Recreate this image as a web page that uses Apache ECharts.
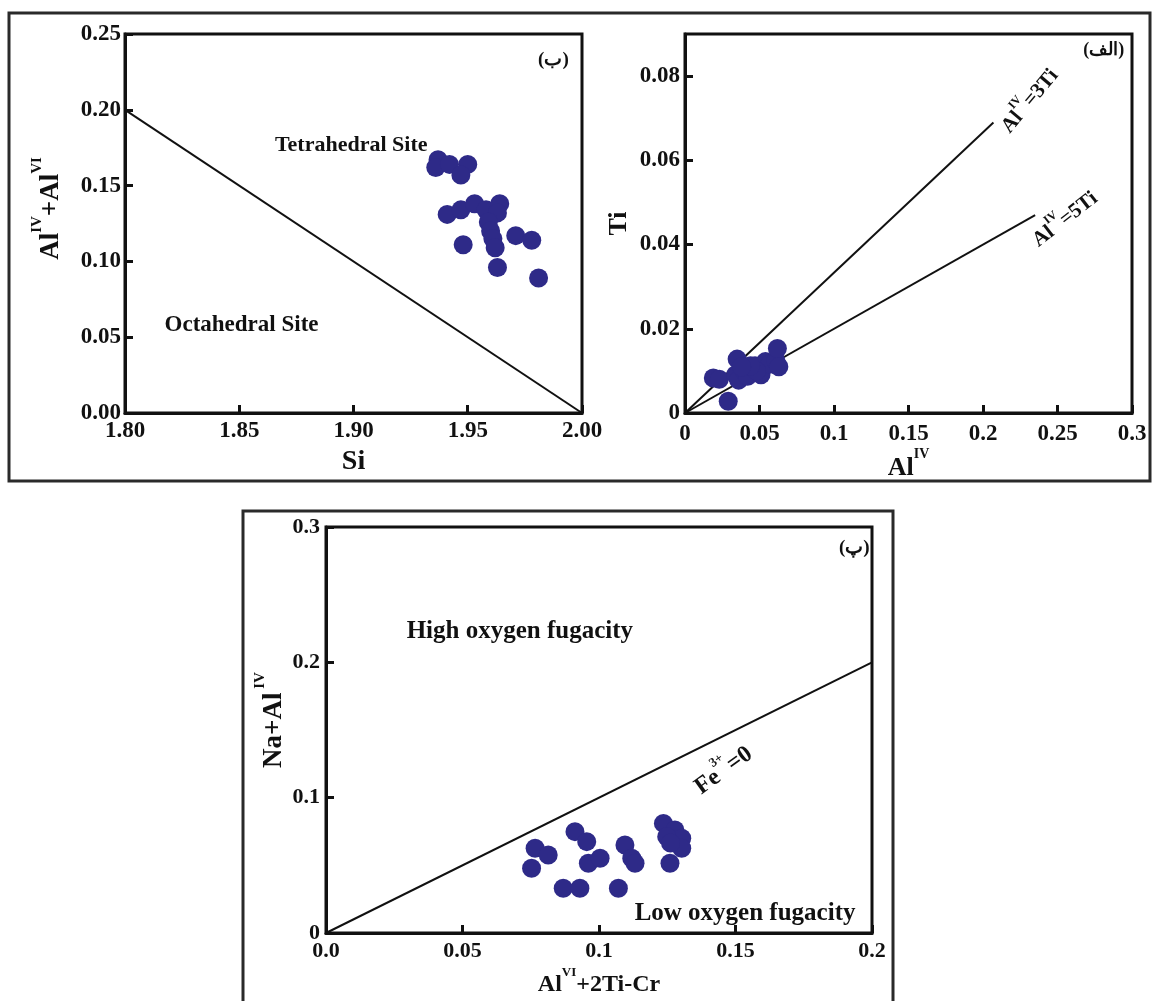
<!DOCTYPE html>
<html>
<head>
<meta charset="utf-8">
<script src="https://cdn.jsdelivr.net/npm/echarts@6/dist/echarts.min.js"></script>
<style>
  html, body { margin: 0; padding: 0; background: #ffffff; }
  #chart { width: 1155px; height: 1001px; }
</style>
</head>
<body>
<div id="chart"></div>
<script>
// Panel (ب): Si vs Al(IV)+Al(VI) in clinopyroxene
const siteSi = [1.937, 1.936, 1.942, 1.950, 1.947, 1.941, 1.947, 1.953, 1.958, 1.964, 1.963,
                1.959, 1.960, 1.961, 1.948, 1.962, 1.971, 1.978, 1.963, 1.981];
const siteAlTotal = [0.167, 0.162, 0.164, 0.164, 0.157, 0.131, 0.134, 0.138, 0.134, 0.138, 0.132,
                     0.126, 0.120, 0.115, 0.111, 0.109, 0.117, 0.114, 0.096, 0.089];
const siteBoundarySi = [1.80, 2.00];
const siteBoundaryAl = [0.20, 0.00];

// Panel (الف): Al(IV) vs Ti
const tiAlIV = [0.019, 0.023, 0.029, 0.035, 0.034, 0.036, 0.040, 0.042, 0.047, 0.051, 0.054,
                0.057, 0.061, 0.062, 0.063, 0.048, 0.044, 0.038];
const tiTi = [0.0083, 0.0080, 0.0028, 0.0128, 0.0091, 0.0078, 0.0099, 0.0087, 0.0112, 0.0091, 0.0122,
              0.0116, 0.0124, 0.0153, 0.0110, 0.0100, 0.0112, 0.0110];
const ratio3AlIV = [0, 0.207];
const ratio3Ti = [0, 0.069];
const ratio5AlIV = [0, 0.235];
const ratio5Ti = [0, 0.047];

// Panel (پ): Al(VI)+2Ti-Cr vs Na+Al(IV)
const fugX = [0.0766, 0.0814, 0.0753, 0.0912, 0.0955, 0.0961, 0.1004, 0.0869, 0.0930, 0.1095,
              0.1120, 0.1132, 0.1071, 0.1236, 0.1278, 0.1303, 0.1248, 0.1303, 0.1260, 0.1262];
const fugY = [0.0626, 0.0576, 0.0478, 0.0749, 0.0675, 0.0515, 0.0552, 0.0330, 0.0330, 0.0650,
              0.0552, 0.0515, 0.0330, 0.0810, 0.0761, 0.0700, 0.0712, 0.0626, 0.0515, 0.0665];
const fe3X = [0, 0.2];
const fe3Y = [0, 0.2];

const SERIF = "'Liberation Serif', 'Times New Roman', 'DejaVu Serif', serif";
const INK = '#111111';
const DOT = '#2e2a88';

const zip = (a, b) => a.map((v, i) => [v, b[i]]);

function rich(size) {
  return {
    b: { fontSize: size, fontWeight: 'bold', fontFamily: SERIF, color: INK, opacity: 1, lineHeight: Math.round(size * 1.3), verticalAlign: 'bottom' },
    s: { fontSize: Math.round(size * 0.55), fontWeight: 'bold', fontFamily: SERIF, color: INK, opacity: 1, lineHeight: Math.round(size * 0.55), verticalAlign: 'top' }
  };
}

function tickLabels(size, margin, extra) {
  return Object.assign({ color: INK, fontFamily: SERIF, fontWeight: 'bold', fontSize: size, margin,
                         showMinLabel: true, showMaxLabel: true }, extra);
}

function valueAxis(gridIndex, min, max, interval, extra) {
  return Object.assign({
    type: 'value', gridIndex, min, max, interval,
    axisLine: { show: true, lineStyle: { color: INK, width: 3 } },
    axisTick: { show: true, inside: true, length: 8, lineStyle: { color: INK, width: 3 } },
    splitLine: { show: false },
    nameLocation: 'middle'
  }, extra);
}

function note(x, y, text, size, rotate) {
  return {
    value: [x, y],
    label: { show: true, position: 'inside', formatter: text, rotate: rotate || 0, rich: rich(size),
             fontFamily: SERIF, fontWeight: 'bold', fontSize: size, color: INK, opacity: 1 }
  };
}

function notes(xi, yi, items) {
  return { type: 'scatter', xAxisIndex: xi, yAxisIndex: yi, symbolSize: 0, silent: true, z: 5,
           itemStyle: { opacity: 1, color: INK }, data: items };
}

function dots(xi, yi, data) {
  return { type: 'scatter', xAxisIndex: xi, yAxisIndex: yi, symbol: 'circle', symbolSize: 19, z: 4,
           itemStyle: { color: DOT, opacity: 1 }, data };
}

function refLine(xi, yi, data) {
  return { type: 'line', xAxisIndex: xi, yAxisIndex: yi, symbol: 'none', silent: true, z: 3,
           lineStyle: { color: INK, width: 2 }, data };
}

const gridBox = { show: true, borderColor: INK, borderWidth: 3, backgroundColor: 'rgba(0,0,0,0)' };

const option = {
  backgroundColor: '#ffffff',
  animation: false,
  graphic: [
    { type: 'rect', shape: { x: 9, y: 13, width: 1141, height: 468 }, style: { fill: 'none', stroke: '#2a2a2a', lineWidth: 3 }, silent: true },
    { type: 'rect', shape: { x: 243, y: 511, width: 650, height: 510 }, style: { fill: 'none', stroke: '#2a2a2a', lineWidth: 3 }, silent: true }
  ],
  grid: [
    Object.assign({ left: 125, top: 34, width: 457, height: 379 }, gridBox),
    Object.assign({ left: 685, top: 34, width: 447, height: 379 }, gridBox),
    Object.assign({ left: 326, top: 527, width: 546, height: 406 }, gridBox)
  ],
  xAxis: [
    valueAxis(0, 1.8, 2.0, 0.05, {
      name: '{b|Si}', nameGap: 27, nameTextStyle: { rich: rich(28) },
      axisLabel: tickLabels(23, 7, { formatter: v => v.toFixed(2) })
    }),
    valueAxis(1, 0, 0.3, 0.05, {
      name: '{b|Al}{s|IV}', nameGap: 30, nameTextStyle: { rich: rich(26) },
      axisLabel: tickLabels(23, 10)
    }),
    valueAxis(2, 0, 0.2, 0.05, {
      name: '{b|Al}{s|VI}{b|+2Ti-Cr}', nameGap: 33, nameTextStyle: { rich: rich(24) },
      axisLabel: tickLabels(22, 7, { formatter: v => (v === 0 ? '0.0' : String(v)) })
    })
  ],
  yAxis: [
    valueAxis(0, 0, 0.25, 0.05, {
      name: '{b|Al}{s|IV}{b|+Al}{s|VI}', nameRotate: 90, nameGap: 60,
      nameTextStyle: { rich: rich(27), padding: [0, 0, 0, 30] },
      axisLabel: tickLabels(23, 4, { formatter: v => v.toFixed(2) })
    }),
    valueAxis(1, 0, 0.09, 0.02, {
      name: '{b|Ti}', nameRotate: 90, nameGap: 53, nameTextStyle: { rich: rich(26) },
      axisLabel: tickLabels(23, 5, { showMaxLabel: false })
    }),
    valueAxis(2, 0, 0.3, 0.1, {
      name: '{b|Na+Al}{s| IV}', nameRotate: 90, nameGap: 38,
      nameTextStyle: { rich: rich(27), padding: [0, 0, 0, 20] },
      axisLabel: tickLabels(22, 6)
    })
  ],
  series: [
    refLine(0, 0, zip(siteBoundarySi, siteBoundaryAl)),
    dots(0, 0, zip(siteSi, siteAlTotal)),
    notes(0, 0, [
      note(1.899, 0.179, '{b|Tetrahedral Site}', 22),
      note(1.851, 0.060, '{b|Octahedral Site}', 23),
      note(1.9875, 0.2345, '{b|(ب)}', 19)
    ]),

    refLine(1, 1, zip(ratio3AlIV, ratio3Ti)),
    refLine(1, 1, zip(ratio5AlIV, ratio5Ti)),
    dots(1, 1, zip(tiAlIV, tiTi)),
    notes(1, 1, [
      note(0.230, 0.0745, '{b|Al}{s|IV}{b|=3Ti}', 21, 50),
      note(0.254, 0.0465, '{b|Al}{s|IV}{b|=5Ti}', 21, 38),
      note(0.281, 0.0866, '{b|(الف)}', 18)
    ]),

    refLine(2, 2, zip(fe3X, fe3Y)),
    dots(2, 2, zip(fugX, fugY)),
    notes(2, 2, [
      note(0.071, 0.226, '{b|High oxygen fugacity}', 25),
      note(0.1535, 0.017, '{b|Low oxygen fugacity}', 25),
      note(0.145, 0.122, '{b|Fe}{s|3+}{b|=0}', 24, 36),
      note(0.1935, 0.2865, '{b|(پ)}', 19)
    ])
  ]
};

const chart = echarts.init(document.getElementById('chart'), null, { renderer: 'canvas' });
chart.setOption(option);
</script>
</body>
</html>
